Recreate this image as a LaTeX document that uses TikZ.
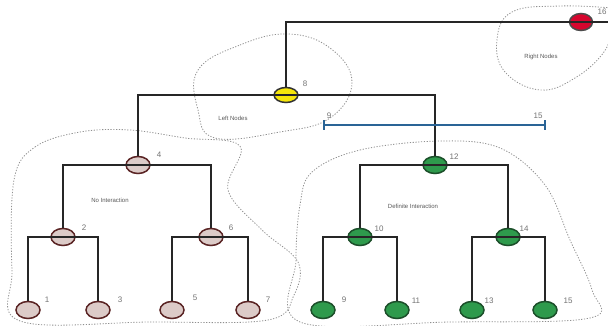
\documentclass[tikz,border=0pt]{standalone}
\usepackage{fontspec}
\setmainfont{Liberation Sans}
\usetikzlibrary{shapes.geometric}
\definecolor{leaffill}{HTML}{DCCBC8}
\definecolor{leafdraw}{HTML}{5A2424}
\definecolor{grfill}{HTML}{2E9A4C}
\definecolor{grdraw}{HTML}{1C4F2A}
\definecolor{yfill}{HTML}{F6E60A}
\definecolor{rfill}{HTML}{D6062E}
\definecolor{bluebar}{HTML}{2A6496}
\definecolor{blobc}{HTML}{909090}
\tikzset{
  tnode/.style={ellipse, draw, line width=1.5pt, minimum width=24pt, minimum height=17pt, inner sep=0pt},
  graynode/.style={tnode, fill=leaffill, draw=leafdraw},
  greennode/.style={tnode, fill=grfill, draw=grdraw},
  yellownode/.style={tnode, fill=yfill, draw=black!80, minimum height=15pt},
  rednode/.style={tnode, fill=rfill, draw=black!70, minimum width=23pt},
  edge/.style={draw=black!85, line width=1.8pt},
  num/.style={text=black!55, font=\fontsize{8}{9}\selectfont, inner sep=0pt},
  blobtext/.style={text=black!65, font=\fontsize{6}{7}\selectfont, inner sep=0pt},
  blob/.style={draw=blobc, line width=0.8pt, dash pattern=on 1.2pt off 1.6pt}
}
\begin{document}
\begin{tikzpicture}[x=1pt,y=-1pt]
\useasboundingbox[fill=white] (0,0) rectangle (608,326);
% blobs
\draw[blob] plot[smooth cycle, tension=0.7] coordinates {(198,70) (240,45) (288,34) (330,48) (352,82) (330,118) (280,132) (215,138) (198,110)};
\draw[blob] plot[smooth, tension=0.7] coordinates {(612,28) (604,52) (575,78) (540,90) (505,72) (497,40) (512,12) (560,6) (612,8)};
\draw[blob] plot[smooth cycle, tension=0.6] coordinates {(14,180) (35,147) (80,132) (130,130) (185,138) (240,146) (228,190) (262,230) (298,262) (294,295) (268,320) (150,322) (20,321) (12,270)};
\draw[blob] plot[smooth cycle, tension=0.6] coordinates {(312,172) (360,150) (440,141) (500,148) (545,185) (570,240) (592,290) (590,318) (450,322) (300,322) (296,260) (300,205)};
% tree nodes
\node[rednode] (n16) at (581,22) {};
\node[yellownode] (n8) at (286,95) {};
\node[graynode] (n4) at (138,165) {};
\node[graynode] (n2) at (63,237) {};
\node[graynode] (n6) at (211,237) {};
\node[graynode] (n1) at (28,310) {};
\node[graynode] (n3) at (98,310) {};
\node[graynode] (n5) at (172,310) {};
\node[graynode] (n7) at (248,310) {};
\node[greennode] (n12) at (435,165) {};
\node[greennode] (n10) at (360,237) {};
\node[greennode] (n14) at (508,237) {};
\node[greennode] (n9) at (323,310) {};
\node[greennode] (n11) at (397,310) {};
\node[greennode] (n13) at (472,310) {};
\node[greennode] (n15) at (545,310) {};
\coordinate (redge) at (608,22);
% connectors
\draw[edge] (redge) -- (n16.east);
\draw[edge] (n16.west) -| (n8.north);
\draw[edge] (n8.west) -| (n4.north);
\draw[edge] (n8.east) -| (n12.north);
\draw[edge] (n4.west) -| (n2.north);
\draw[edge] (n4.east) -| (n6.north);
\draw[edge] (n2.west) -| (n1.north);
\draw[edge] (n2.east) -| (n3.north);
\draw[edge] (n6.west) -| (n5.north);
\draw[edge] (n6.east) -| (n7.north);
\draw[edge] (n12.west) -| (n10.north);
\draw[edge] (n12.east) -| (n14.north);
\draw[edge] (n10.west) -| (n9.north);
\draw[edge] (n10.east) -| (n11.north);
\draw[edge] (n14.west) -| (n13.north);
\draw[edge] (n14.east) -| (n15.north);
% lines through internal nodes
\foreach \n in {n16,n8,n4,n2,n6,n12,n10,n14}{
  \draw[edge] (\n.west) -- (\n.east);
}
% blue range bar
\coordinate (ba) at (324,125);
\coordinate (bb) at (545,125);
\draw[bluebar, line width=1.5pt] (ba) -- (bb);
\draw[bluebar, line width=1.5pt] ([yshift=-5pt]ba) -- ([yshift=5pt]ba);
\draw[bluebar, line width=1.5pt] ([yshift=-5pt]bb) -- ([yshift=5pt]bb);
% numbers
\node[num] (l16) at (602,12) {16};
\node[num] (l8) at (305,84) {8};
\node[num] (lb9) at (329,116) {9};
\node[num] (lb15) at (538,116) {15};
\node[num] (l4) at (159,155) {4};
\node[num] (l2) at (84,228) {2};
\node[num] (l6) at (231,228) {6};
\node[num] (l1) at (47,300) {1};
\node[num] (l3) at (120,300) {3};
\node[num] (l5) at (195,298) {5};
\node[num] (l7) at (268,300) {7};
\node[num] (l12) at (454,157) {12};
\node[num] (l10) at (379,229) {10};
\node[num] (l14) at (524,229) {14};
\node[num] (l9) at (344,300) {9};
\node[num] (l11) at (416,301) {11};
\node[num] (l13) at (489,301) {13};
\node[num] (l15) at (568,301) {15};
% blob texts
\node[blobtext] (tl) at (233,118) {Left Nodes};
\node[blobtext] (tr) at (541,57) {Right Nodes};
\node[blobtext] (tn) at (110,200) {No Interaction};
\node[blobtext] (td) at (413,206) {Definite Interaction};
\end{tikzpicture}
\end{document}
